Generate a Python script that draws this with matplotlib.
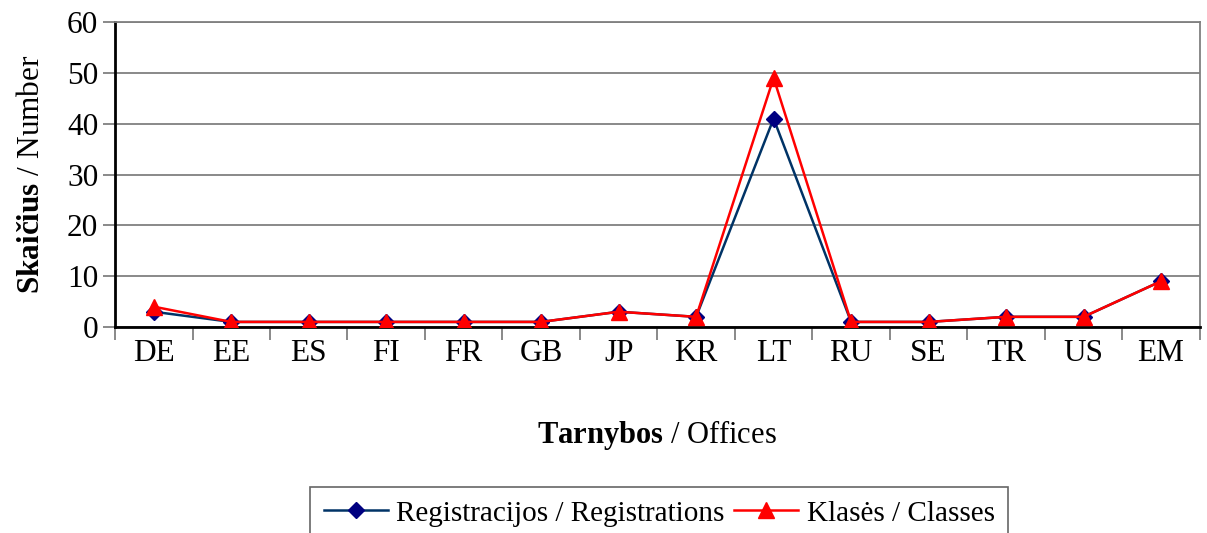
import matplotlib.pyplot as plt
import numpy as np

plt.rcParams['font.family'] = ['Liberation Serif', 'DejaVu Serif']
plt.rcParams['mathtext.fontset'] = 'custom'
plt.rcParams['mathtext.rm'] = 'Liberation Serif'
plt.rcParams['mathtext.bf'] = 'Liberation Serif:bold'

offices = ['DE', 'EE', 'ES', 'FI', 'FR', 'GB', 'JP', 'KR', 'LT', 'RU', 'SE', 'TR', 'US', 'EM']
registrations = [3, 1, 1, 1, 1, 1, 3, 2, 41, 1, 1, 2, 2, 9]
classes = [4, 1, 1, 1, 1, 1, 3, 2, 49, 1, 1, 2, 2, 9]
y_ticks = [0, 10, 20, 30, 40, 50, 60]

fig = plt.figure(figsize=(12.07, 5.33), dpi=100)
ax = fig.add_axes([0.0953, 0.3865, 0.8987, 0.5722])

x = np.arange(len(offices))
ax.plot(x, registrations, color='#003366', lw=1.8, marker='D', ms=8,
        mfc='#000080', mec='#000080', label='Registracijos / Registrations', zorder=3)
ax.plot(x, classes, color='#FF0000', lw=1.8, marker='^', ms=11,
        mfc='#FF0000', mec='#FF0000', label='Klasės / Classes', zorder=4)

ax.set_xlim(-0.5, len(offices) - 0.5)
ax.set_ylim(0, 60)
ax.set_yticks(y_ticks)
ax.yaxis.grid(True, color='#808080', lw=1.3)
ax.set_axisbelow(True)

# labels at the categories, tick marks between them
ax.set_xticks(x)
ax.set_xticklabels(offices, fontsize=22.5)
ax.set_xticks(np.arange(len(offices) + 1) - 0.5, minor=True)
ax.tick_params(axis='x', which='major', length=0, pad=9)
ax.tick_params(axis='x', which='minor', length=9, width=1.3, color='#808080')
ax.tick_params(axis='y', labelsize=22.5, length=9, width=1.3, color='#808080', pad=3)

for s in ['left', 'bottom']:
    ax.spines[s].set_color('black')
    ax.spines[s].set_linewidth(2)
for s in ['top', 'right']:
    ax.spines[s].set_color('#808080')
    ax.spines[s].set_linewidth(1.3)

ax.set_xlabel(r'$\mathbf{Tarnybos}$ / Offices', fontsize=22, labelpad=36)
ax.set_ylabel(r'$\mathbf{Skaičius}$ / Number', fontsize=22.5, labelpad=15)

leg = fig.legend(loc='upper center', bbox_to_anchor=(0.546, 0.0863), ncol=2,
                 fontsize=21, frameon=True, fancybox=False, handlelength=2.2,
                 handletextpad=0.3, columnspacing=0.3, borderpad=0.45,
                 borderaxespad=0)
leg.get_frame().set_edgecolor('#404040')
leg.get_frame().set_linewidth(1.2)

fig.savefig('out.png', dpi=100)
